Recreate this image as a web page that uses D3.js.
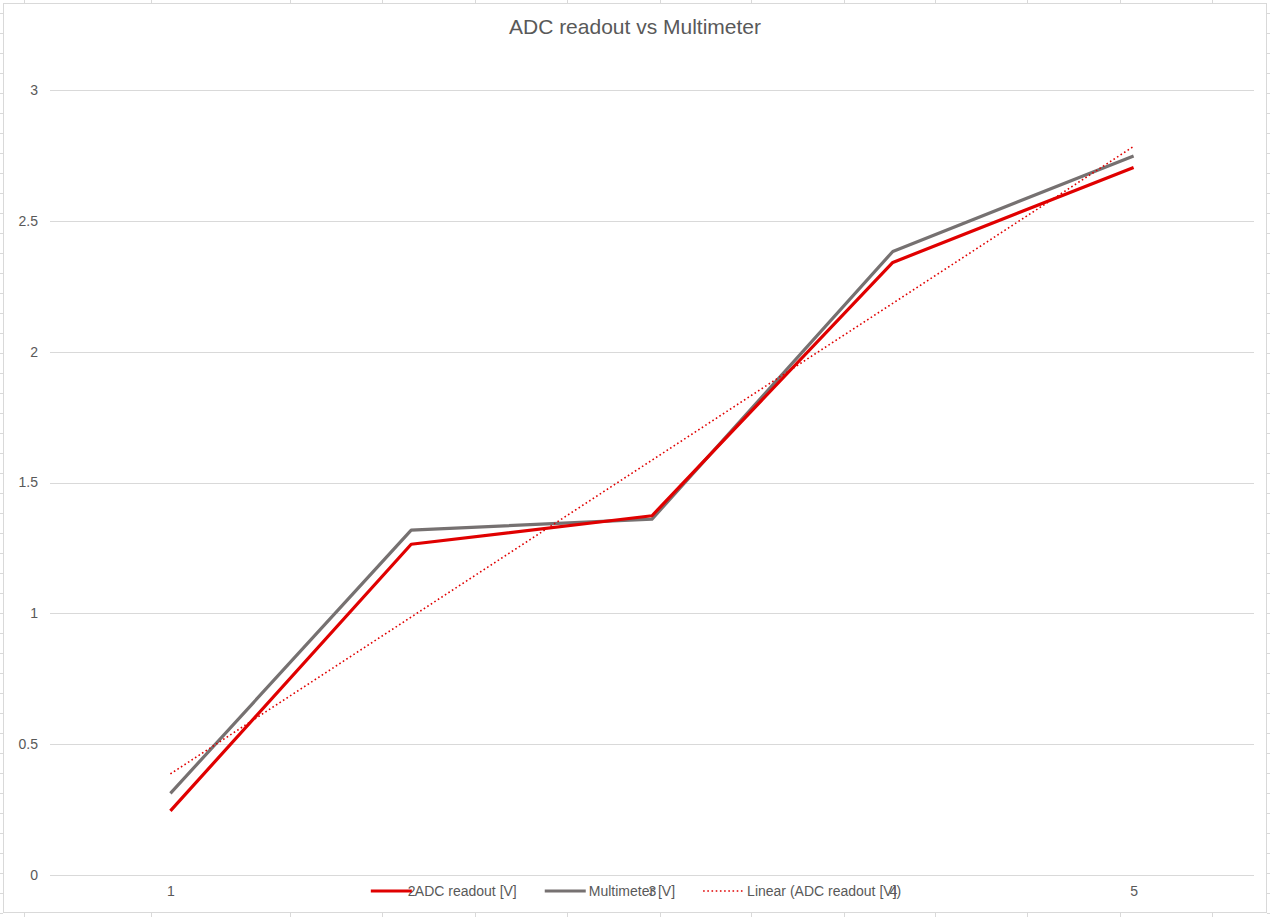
<!DOCTYPE html>
<html>
<head>
<meta charset="utf-8">
<script src="https://cdn.jsdelivr.net/npm/d3@7"></script>
<style>
  html, body { margin: 0; padding: 0; background: #fff; }
  svg { display: block; font-family: "Liberation Sans", Arial, sans-serif; }
</style>
</head>
<body>
<svg id="chart" width="1270" height="917"></svg>
<script>
// ---- Data ----
const categories = [1, 2, 3, 4, 5];
const adcReadout = [0.245, 1.264, 1.373, 2.341, 2.704];
const multimeter = [0.312, 1.318, 1.360, 2.383, 2.748];
const yTickValues = [0, 0.5, 1, 1.5, 2, 2.5, 3];
const yTickLabels = ["0", "0.5", "1", "1.5", "2", "2.5", "3"];
const seriesNames = ["ADC readout [V]", "Multimeter [V]", "Linear (ADC readout [V])"];
const titleText = "ADC readout vs Multimeter";
// spreadsheet cell boundaries behind the chart
const sheetColumns = [24, 151, 290, 382, 475, 567, 660, 751, 844, 935, 1027, 1120, 1212];
const sheetRows = d3.range(13, 917, 20);

// ---- Layout ----
const W = 1270, H = 917;
const chartBox = {x: 3.5, y: 3.5, w: 1263, h: 909};
const plot = {left: 50, right: 1254, top: 90, bottom: 875};
const RED = "#E00000", GRAY = "#767171", TEXT = "#595959", GRID = "#D9D9D9";

const svg = d3.select("#chart");

// spreadsheet background grid (outside chart)
const sheet = svg.append("g").attr("stroke", GRID).attr("stroke-width", 1);
sheetRows.forEach(r => {
  sheet.append("line").attr("x1", 0).attr("x2", 3).attr("y1", r + 0.5).attr("y2", r + 0.5);
  sheet.append("line").attr("x1", 1267).attr("x2", 1270).attr("y1", r + 0.5).attr("y2", r + 0.5);
});
sheetColumns.forEach(c => {
  sheet.append("line").attr("x1", c + 0.5).attr("x2", c + 0.5).attr("y1", 0).attr("y2", 3);
  sheet.append("line").attr("x1", c + 0.5).attr("x2", c + 0.5).attr("y1", 913).attr("y2", 917);
});

// chart area
svg.append("rect")
  .attr("x", chartBox.x).attr("y", chartBox.y)
  .attr("width", chartBox.w).attr("height", chartBox.h)
  .attr("fill", "#fff").attr("stroke", GRID).attr("stroke-width", 1);

// scales
const x = d3.scalePoint().domain(categories).range([plot.left, plot.right]).padding(0.5);
const y = d3.scaleLinear().domain([0, 3]).range([plot.bottom, plot.top]);

// gridlines
svg.append("g")
  .selectAll("line").data(yTickValues).join("line")
  .attr("x1", plot.left).attr("x2", plot.right)
  .attr("y1", d => Math.round(y(d)) + 0.5).attr("y2", d => Math.round(y(d)) + 0.5)
  .attr("stroke", GRID).attr("stroke-width", 1);

// y axis labels
const yAxis = d3.axisLeft(y).tickValues(yTickValues)
  .tickFormat((d, i) => yTickLabels[i]).tickSize(0).tickPadding(0);
const yg = svg.append("g").attr("transform", "translate(38,0)").call(yAxis);
yg.select(".domain").remove();
yg.selectAll("text").attr("fill", TEXT).attr("font-size", 14)
  .attr("font-family", "Liberation Sans, Arial, sans-serif");

// x axis labels
const xAxis = d3.axisBottom(x).tickSize(0).tickPadding(0);
const xg = svg.append("g").attr("transform", `translate(0,${plot.bottom + 11})`).call(xAxis);
xg.select(".domain").remove();
xg.selectAll("text").attr("fill", TEXT).attr("font-size", 14)
  .attr("font-family", "Liberation Sans, Arial, sans-serif");

// trendline (least squares on ADC readout)
const mx = d3.mean(categories), my = d3.mean(adcReadout);
const slope = d3.sum(categories, (c, i) => (c - mx) * (adcReadout[i] - my)) /
              d3.sum(categories, c => (c - mx) * (c - mx));
const intercept = my - slope * mx;
const trend = [categories[0], categories[categories.length - 1]].map(c => [c, intercept + slope * c]);

const line = d3.line().x(d => x(d[0])).y(d => y(d[1]));

svg.append("path")
  .datum(categories.map((c, i) => [c, multimeter[i]]))
  .attr("d", line).attr("fill", "none")
  .attr("stroke", GRAY).attr("stroke-width", 3.2).attr("stroke-linejoin", "round");

svg.append("path")
  .datum(categories.map((c, i) => [c, adcReadout[i]]))
  .attr("d", line).attr("fill", "none")
  .attr("stroke", RED).attr("stroke-width", 3.2).attr("stroke-linejoin", "round");

svg.append("path")
  .datum(trend)
  .attr("d", d3.line().x(d => x(d[0])).y(d => y(d[1])))
  .attr("fill", "none").attr("stroke", RED).attr("stroke-width", 1.6)
  .attr("stroke-dasharray", "1.6,2.6");

// title
svg.append("text")
  .attr("x", 635).attr("y", 34)
  .attr("text-anchor", "middle")
  .attr("fill", TEXT).attr("font-size", 21)
  .text(titleText);

// legend
const legendStyles = [
  {color: RED, width: 3.2, dash: null},
  {color: GRAY, width: 3.2, dash: null},
  {color: RED, width: 1.6, dash: "1.6,2.6"}
];
const swatch = 41, swGap = 3, itemGap = 28, legendY = 891;
const legend = svg.append("g");
const items = seriesNames.map((name, i) => {
  const g = legend.append("g");
  g.append("line").attr("x1", 0).attr("x2", swatch)
    .attr("y1", legendY).attr("y2", legendY)
    .attr("stroke", legendStyles[i].color).attr("stroke-width", legendStyles[i].width)
    .attr("stroke-dasharray", legendStyles[i].dash);
  const t = g.append("text").attr("x", swatch + swGap).attr("y", legendY + 5)
    .attr("fill", TEXT).attr("font-size", 14).text(name);
  return {g, w: swatch + swGap + t.node().getComputedTextLength()};
});
const totalW = d3.sum(items, d => d.w) + itemGap * (items.length - 1);
let cx = 636 - totalW / 2;
items.forEach(it => { it.g.attr("transform", `translate(${cx},0)`); cx += it.w + itemGap; });
</script>
</body>
</html>
